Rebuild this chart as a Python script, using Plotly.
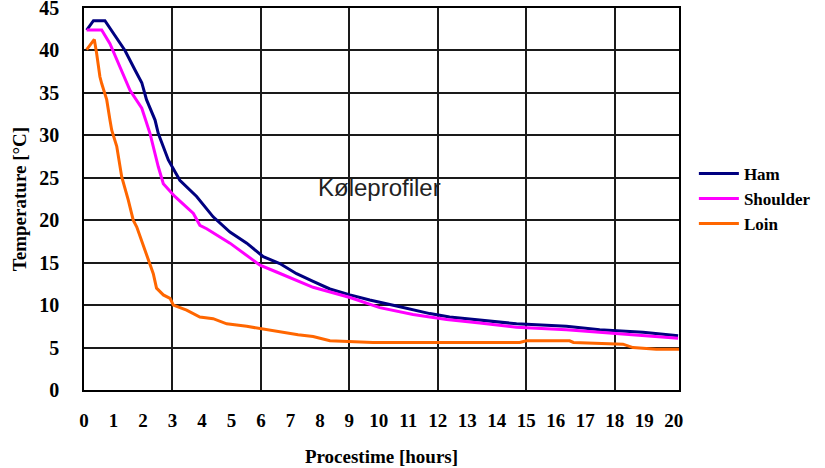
import plotly.graph_objects as go

# Cooling profiles: core temperature vs. process time
ham_t = [0.09, 0.32, 0.71, 0.99, 1.39, 1.73, 1.96, 2.12, 2.41, 2.52, 2.86, 3.25, 3.82, 4.38, 4.95,
         5.52, 5.97, 6.08, 6.64, 6.98, 7.21, 7.77, 8.34, 9.02, 9.69, 10.6, 11.73, 12.4, 13.54,
         14.67, 16.36, 17.49, 18.96, 20.15]
ham_v = [42.4, 43.5, 43.5, 42.0, 40.0, 37.7, 36.2, 34.2, 31.8, 30.2, 27.1, 24.7, 22.8, 20.4, 18.6,
         17.3, 16.1, 15.7, 14.9, 14.2, 13.7, 12.8, 11.9, 11.2, 10.6, 9.9, 9.0, 8.6, 8.2,
         7.8, 7.5, 7.1, 6.8, 6.4]

shoulder_t = [0.09, 0.6, 0.88, 1.22, 1.56, 1.96, 2.24, 2.52, 2.69, 3.08, 3.71, 3.93, 4.16, 4.95,
              5.74, 5.97, 6.53, 7.32, 7.77, 9.02, 10.03, 11.16, 12.3, 13.42, 14.67, 16.36, 17.49,
              18.96, 20.15]
shoulder_v = [42.4, 42.4, 40.8, 38.1, 35.3, 33.2, 30.2, 26.3, 24.3, 22.8, 20.8, 19.4, 19.0, 17.3,
              15.3, 14.7, 13.9, 12.8, 12.1, 10.9, 9.7, 8.9, 8.3, 7.9, 7.4, 7.1, 6.8,
              6.4, 6.1]

loin_t = [0.09, 0.35, 0.43, 0.54, 0.6, 0.77, 0.88, 0.94, 1.11, 1.28, 1.5, 1.67, 1.79, 2.12, 2.35,
          2.46, 2.52, 2.69, 2.92, 3.03, 3.48, 3.93, 4.38, 4.84, 5.52, 6.08, 6.76, 7.26, 7.77, 8.34,
          9.8, 14.78, 15.0, 16.47, 16.6, 18.28, 18.62, 19.41, 20.18]
loin_v = [40.1, 41.3, 39.6, 36.9, 36.1, 34.2, 31.8, 30.6, 28.7, 25.1, 22.4, 20.0, 19.2, 16.0, 13.7,
          12.0, 11.8, 11.2, 10.8, 10.0, 9.4, 8.6, 8.4, 7.8, 7.5, 7.15, 6.75, 6.5, 6.3, 5.8,
          5.6, 5.6, 5.8, 5.8, 5.6, 5.4, 5.0, 4.8, 4.8]

hours = list(range(0, 21))
temps = list(range(0, 46, 5))

serif = "Liberation Serif"

fig = go.Figure()
fig.add_trace(go.Scatter(x=ham_t, y=ham_v, name="Ham", mode="lines",
                         line=dict(color="#000080", width=3)))
fig.add_trace(go.Scatter(x=shoulder_t, y=shoulder_v, name="Shoulder", mode="lines",
                         line=dict(color="#FF00FF", width=3)))
fig.add_trace(go.Scatter(x=loin_t, y=loin_v, name="Loin", mode="lines",
                         line=dict(color="#FF6600", width=3)))

fig.add_annotation(x=10.03, y=23.8, text="Køleprofiler", showarrow=False,
                   font=dict(family="Liberation Sans", size=24, color="#222222"))

fig.update_layout(
    width=825, height=468,
    margin=dict(l=84, r=146, t=8, b=78, autoexpand=False),
    paper_bgcolor="white", plot_bgcolor="white",
    font=dict(family=serif, color="black"),
    showlegend=True,
    legend=dict(x=1.025, y=0.613, xanchor="left", yanchor="top",
                font=dict(family=serif, size=17, color="black", weight="bold"),
                tracegroupgap=0, itemwidth=40, bgcolor="rgba(0,0,0,0)"),
    xaxis=dict(range=[0, 20.18], tickmode="array", tickvals=hours,
               ticktext=[str(h) for h in hours], automargin=False,
               showgrid=False, zeroline=False,
               showline=True, linecolor="black", linewidth=1.5, mirror=True,
               ticks="", ticklabelstandoff=12,
               tickfont=dict(family=serif, size=19, color="black", weight="bold"),
               minor=dict(tick0=0, dtick=3, showgrid=True, gridcolor="#1a1a1a", gridwidth=1.5),
               title=dict(text="Procestime [hours]", standoff=20,
                          font=dict(family=serif, size=19, color="black", weight="bold"))),
    yaxis=dict(range=[0, 45], tickmode="array", tickvals=temps, automargin=False,
               showgrid=True, gridcolor="#1a1a1a", gridwidth=1.5, zeroline=False,
               showline=True, linecolor="black", linewidth=1.5, mirror=True,
               ticks="", ticklabelstandoff=19, ticklabeloverflow="allow",
               tickfont=dict(family=serif, size=20, color="black", weight="bold"),
               title=dict(text="Temperature [°C]", standoff=8,
                          font=dict(family=serif, size=19, color="black", weight="bold"))),
)

fig.write_html("out.html")
